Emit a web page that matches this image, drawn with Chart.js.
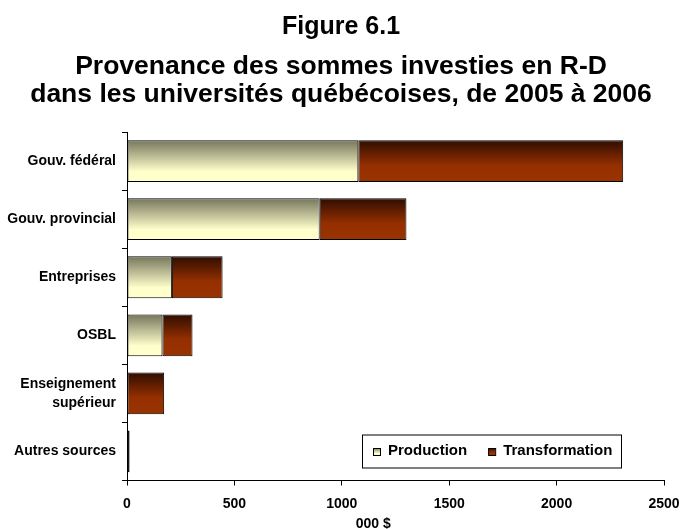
<!DOCTYPE html>
<html>
<head>
<meta charset="utf-8">
<script src="https://cdn.jsdelivr.net/npm/chart.js@4"></script>
<style>
  html, body { margin: 0; padding: 0; background: #fff; }
  #wrap { width: 682px; height: 529px; position: relative; }
</style>
</head>
<body>
<div id="wrap"><canvas id="c"></canvas></div>
<script>
const categories = ["Gouv. fédéral", "Gouv. provincial", "Entreprises", "OSBL", ["Enseignement", "supérieur"], "Autres sources"];
const production = [1077, 897, 209, 165, 0, 0];
const transformation = [1233, 404, 236, 140, 173, 12];
const xTicks = [0, 500, 1000, 1500, 2000, 2500];
const seriesNames = ["Production", "Transformation"];
const titleText = "Figure 6.1";
const subtitleLines = ["Provenance des sommes investies en R-D", "dans les universités québécoises, de 2005 à 2006"];
const xAxisTitle = "000 $";

const FONT = "'Liberation Sans', Arial, sans-serif";
const BAR_PCT = 0.72;
const gradStops = [
  [[0, "#75755c"], [0.75, "#ffffcc"], [1, "#ffffcc"]],
  [[0, "#2e0d00"], [0.6, "#952f00"], [1, "#993300"]]
];
function makeGrad(ctx2d, idx, y0, y1) {
  const g = ctx2d.createLinearGradient(0, y0, 0, y1);
  gradStops[idx].forEach(s => g.addColorStop(s[0], s[1]));
  return g;
}
function barFill(idx) {
  return function (ctx) {
    const chart = ctx.chart;
    const ys = chart.scales.y;
    if (!chart.chartArea || !ys) return gradStops[idx][1][1];
    const band = ys.height / categories.length;
    const thick = band * BAR_PCT;
    const c = ys.getPixelForValue(ctx.dataIndex);
    return makeGrad(chart.ctx, idx, c - thick / 2, c + thick / 2);
  };
}

const extras = {
  id: "extras",
  afterDatasetsDraw(chart) {
    const ctx = chart.ctx;
    const ca = chart.chartArea;
    // axis title
    ctx.save();
    ctx.font = "bold 14px " + FONT;
    ctx.fillStyle = "#000";
    ctx.textAlign = "center";
    ctx.textBaseline = "middle";
    ctx.fillText(xAxisTitle, ca.left + ca.width * 0.4585, ca.bottom + 44);
    ctx.restore();
    // legend inside plot
    const bx = 362, by = ca.bottom - 46, bw = 260, bh = 34;
    ctx.save();
    ctx.fillStyle = "#fff";
    ctx.fillRect(bx, by, bw, bh);
    ctx.strokeStyle = "#000";
    ctx.lineWidth = 1;
    ctx.strokeRect(bx + 0.5, by + 0.5, bw - 1, bh - 1);
    ctx.font = "bold 15px " + FONT;
    ctx.textBaseline = "middle";
    ctx.textAlign = "left";
    const cy = by + bh / 2;
    let x = bx + 11;
    chart.data.datasets.forEach((ds, i) => {
      const sq = 7;
      ctx.fillStyle = makeGrad(ctx, i, cy - sq / 2, cy + sq / 2);
      ctx.fillRect(x, cy - sq / 2 + 0.5, sq, sq);
      ctx.strokeStyle = "#000";
      ctx.strokeRect(x + 0.5, Math.round(cy - sq / 2) + 0.5, sq, sq);
      ctx.fillStyle = "#000";
      ctx.fillText(ds.label, x + sq + 8, cy - 1);
      x += sq + 8 + ctx.measureText(ds.label).width + 21;
    });
    ctx.restore();
  }
};

new Chart(document.getElementById("c"), {
  type: "bar",
  data: {
    labels: categories,
    datasets: [
      { label: seriesNames[0], data: production, backgroundColor: barFill(0), borderColor: "#000", borderWidth: 1, borderSkipped: false },
      { label: seriesNames[1], data: transformation, backgroundColor: barFill(1), borderColor: "#000", borderWidth: 1, borderSkipped: false }
    ]
  },
  options: {
    indexAxis: "y",
    responsive: true,
    maintainAspectRatio: false,
    animation: false,
    datasets: { bar: { barPercentage: BAR_PCT, categoryPercentage: 1 } },
    layout: { padding: { left: 0, right: 0, top: 0, bottom: 0 } },
    scales: {
      x: {
        stacked: true,
        min: 0, max: 2500,
        afterBuildTicks(scale) { scale.ticks = xTicks.map(v => ({ value: v })); },
        afterFit(scale) { scale.height = 48.5; scale.paddingRight = 18; scale.paddingLeft = 0; },
        grid: { drawOnChartArea: false, drawTicks: true, tickLength: 5, color: "#000" },
        border: { display: true, color: "#000", width: 1 },
        ticks: { color: "#000", padding: 10, font: { family: FONT, size: 14, weight: "bold", lineHeight: 1.2 }, maxRotation: 0, autoSkip: false, callback: v => String(v) }
      },
      y: {
        stacked: true,
        offset: true,
        afterFit(scale) { scale.width = 127; },
        grid: { offset: true, drawOnChartArea: false, drawTicks: true, tickLength: 5, color: "#000" },
        border: { display: true, color: "#000", width: 1 },
        ticks: { color: "#000", padding: 6, font: { family: FONT, size: 14, weight: "bold", lineHeight: 1.36 } }
      }
    },
    plugins: {
      legend: { display: false },
      tooltip: { enabled: false },
      title: {
        display: true, text: titleText, color: "#000",
        font: { family: FONT, size: 25, weight: "bold", lineHeight: 1.2 },
        padding: { top: 12, bottom: 11 }
      },
      subtitle: {
        display: true, text: subtitleLines, color: "#000",
        font: { family: FONT, size: 26.5, weight: "bold", lineHeight: 1.057 },
        padding: { top: 0, bottom: 23 }
      }
    }
  },
  plugins: [extras]
});
</script>
</body>
</html>
